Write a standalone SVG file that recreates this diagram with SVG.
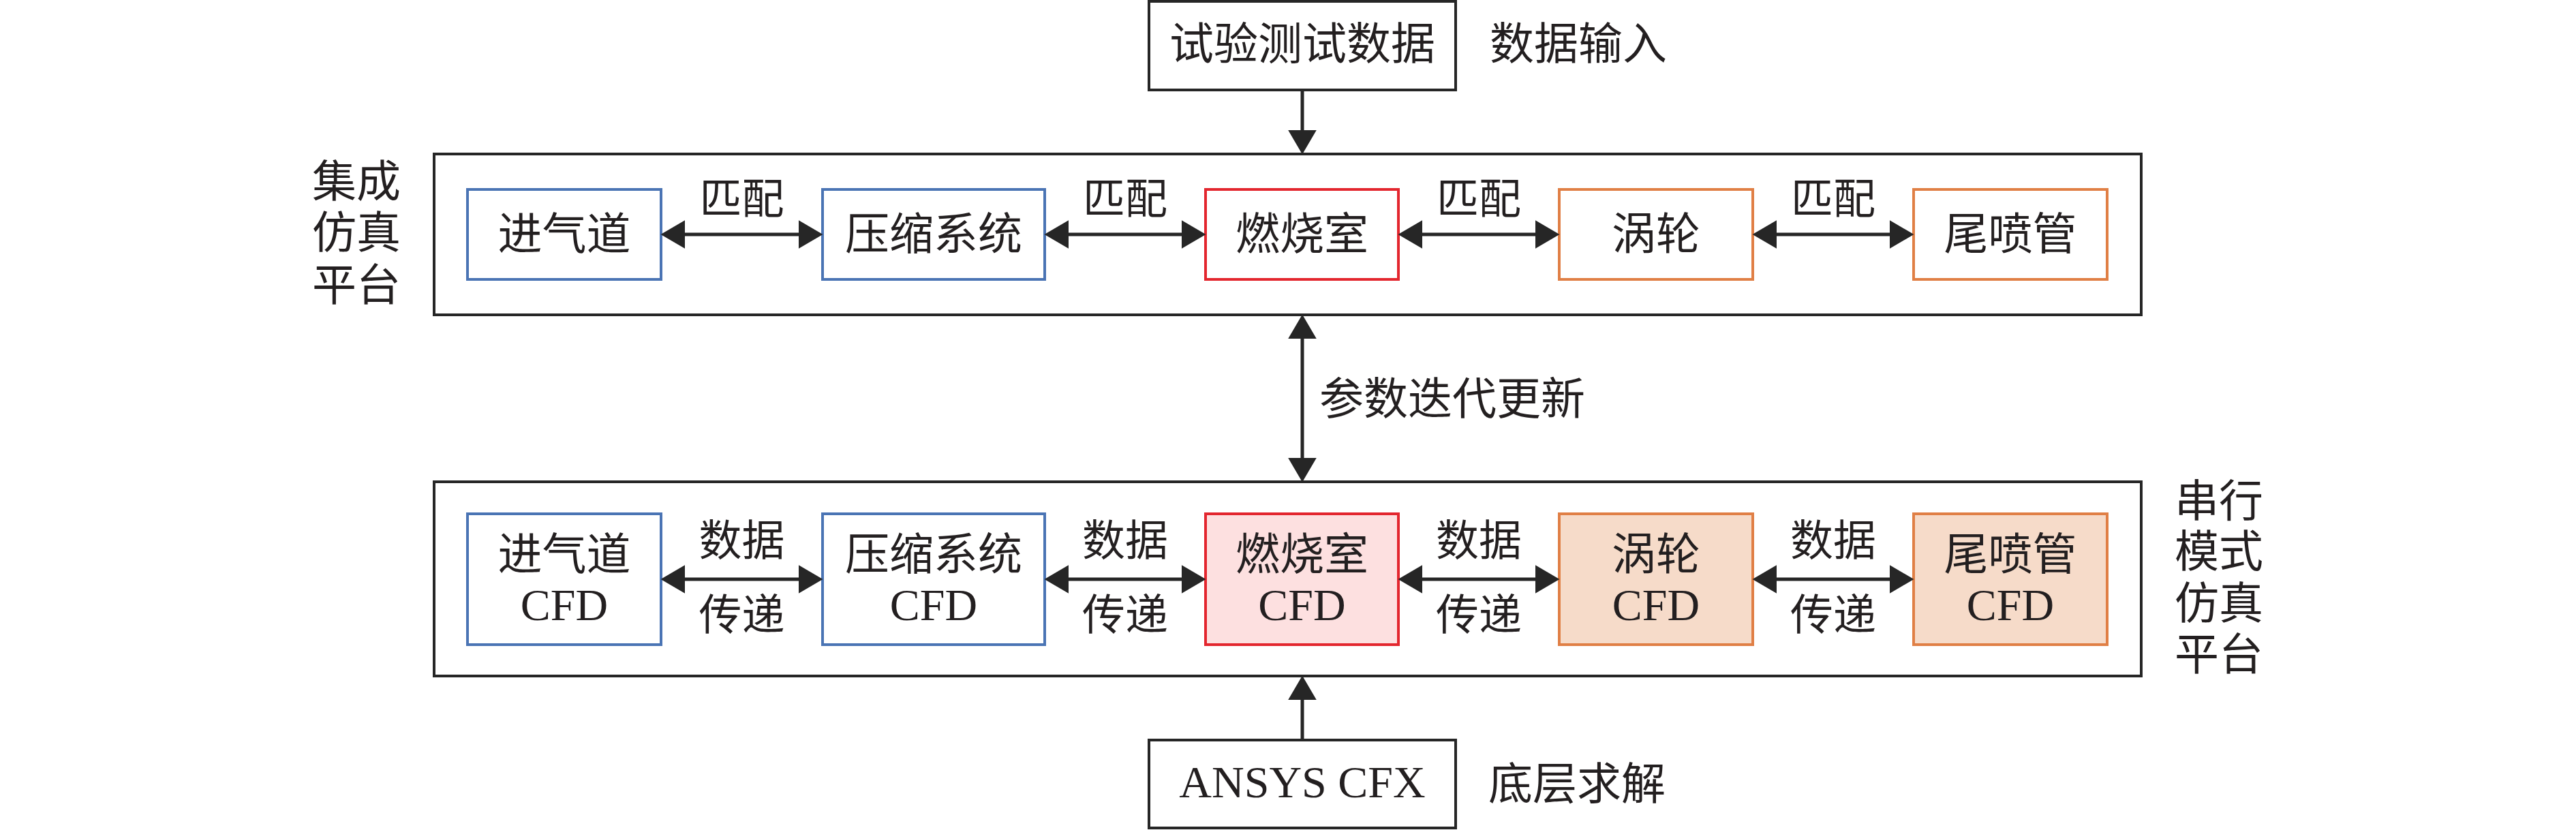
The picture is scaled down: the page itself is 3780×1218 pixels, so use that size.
<svg xmlns="http://www.w3.org/2000/svg" width="3780" height="1218" viewBox="0 0 3780 1218">
<defs>
<style>
.t{font-family:"Liberation Serif","Noto Sans CJK SC",serif;fill:#231f20;}
.c{text-anchor:middle;}
.frame{fill:#fff;stroke:#262626;stroke-width:4;}
.blue{fill:#fff;stroke:#4a74b4;stroke-width:4;}
.red{fill:#fff;stroke:#e3262e;stroke-width:4;}
.org{fill:#fff;stroke:#e07f45;stroke-width:4;}
.redf{fill:#fde0e0;stroke:#e3262e;stroke-width:4;}
.orgf{fill:#f6dbc9;stroke:#e07f45;stroke-width:4;}
.ln{stroke:#262626;stroke-width:5;fill:none;}
</style>
<marker id="ah" markerUnits="userSpaceOnUse" markerWidth="36" markerHeight="42" viewBox="0 0 35 41" refX="15" refY="20.5" orient="auto-start-reverse">
<path d="M0,0 L35,20.5 L0,41 z" fill="#262626"/>
</marker>
</defs>
<rect width="3780" height="1218" fill="#fff"/>

<g id="top-input">
<rect class="frame" x="1686" y="2" width="450" height="130"/>
<text class="t c" x="1911" y="87" font-size="65">试验测试数据</text>
<text class="t c" x="2316" y="87" font-size="65">数据输入</text>
</g>

<g id="integrated-platform">
<rect class="frame" x="637" y="226" width="2505" height="236"/>
<text class="t" x="458" y="289" font-size="65">集成</text>
<text class="t" x="458" y="364" font-size="65">仿真</text>
<text class="t" x="458" y="441" font-size="65">平台</text>
</g>

<g id="inlet"><rect class="blue" x="686" y="278" width="284" height="132"/><text class="t c" x="828" y="366" font-size="65">进气道</text></g>
<g id="compressor"><rect class="blue" x="1207" y="278" width="326" height="132"/><text class="t c" x="1370" y="366" font-size="65">压缩系统</text></g>
<g id="combustor"><rect class="red" x="1769" y="278" width="283" height="132"/><text class="t c" x="1910.5" y="366" font-size="65">燃烧室</text></g>
<g id="turbine"><rect class="org" x="2288" y="278" width="284" height="132"/><text class="t c" x="2430" y="366" font-size="65">涡轮</text></g>
<g id="nozzle"><rect class="org" x="2808" y="278" width="284" height="132"/><text class="t c" x="2950" y="366" font-size="65">尾喷管</text></g>

<g id="serial-platform">
<rect class="frame" x="637" y="707" width="2505" height="285"/>
<text class="t" x="3191" y="758" font-size="65">串行</text>
<text class="t" x="3191" y="832" font-size="65">模式</text>
<text class="t" x="3191" y="908" font-size="65">仿真</text>
<text class="t" x="3191" y="983" font-size="65">平台</text>
</g>

<g id="inlet-cfd"><rect class="blue" x="686" y="754" width="284" height="192"/><text class="t c" x="828" y="836" font-size="65">进气道</text><text class="t c" x="828" y="910" font-size="66">CFD</text></g>
<g id="compressor-cfd"><rect class="blue" x="1207" y="754" width="326" height="192"/><text class="t c" x="1370" y="836" font-size="65">压缩系统</text><text class="t c" x="1370" y="910" font-size="66">CFD</text></g>
<g id="combustor-cfd"><rect class="redf" x="1769" y="754" width="283" height="192"/><text class="t c" x="1910.5" y="836" font-size="65">燃烧室</text><text class="t c" x="1910.5" y="910" font-size="66">CFD</text></g>
<g id="turbine-cfd"><rect class="orgf" x="2288" y="754" width="284" height="192"/><text class="t c" x="2430" y="836" font-size="65">涡轮</text><text class="t c" x="2430" y="910" font-size="66">CFD</text></g>
<g id="nozzle-cfd"><rect class="orgf" x="2808" y="754" width="284" height="192"/><text class="t c" x="2950" y="836" font-size="65">尾喷管</text><text class="t c" x="2950" y="910" font-size="66">CFD</text></g>

<g id="solver">
<rect class="frame" x="1686" y="1086" width="450" height="129"/>
<text class="t c" x="1911" y="1170" font-size="66">ANSYS CFX</text>
<text class="t c" x="2314" y="1173" font-size="65">底层求解</text>
</g>

<g id="connectors">
<line class="ln" x1="1911" y1="132" x2="1911" y2="206" marker-end="url(#ah)"/>
<line class="ln" x1="1911" y1="482" x2="1911" y2="687" marker-start="url(#ah)" marker-end="url(#ah)"/>
<line class="ln" x1="1911" y1="1086" x2="1911" y2="1012" marker-end="url(#ah)"/>
<line class="ln" x1="990" y1="344" x2="1187" y2="344" marker-start="url(#ah)" marker-end="url(#ah)"/>
<line class="ln" x1="1553" y1="344" x2="1749" y2="344" marker-start="url(#ah)" marker-end="url(#ah)"/>
<line class="ln" x1="2072" y1="344" x2="2268" y2="344" marker-start="url(#ah)" marker-end="url(#ah)"/>
<line class="ln" x1="2592" y1="344" x2="2788" y2="344" marker-start="url(#ah)" marker-end="url(#ah)"/>
<line class="ln" x1="990" y1="850" x2="1187" y2="850" marker-start="url(#ah)" marker-end="url(#ah)"/>
<line class="ln" x1="1553" y1="850" x2="1749" y2="850" marker-start="url(#ah)" marker-end="url(#ah)"/>
<line class="ln" x1="2072" y1="850" x2="2268" y2="850" marker-start="url(#ah)" marker-end="url(#ah)"/>
<line class="ln" x1="2592" y1="850" x2="2788" y2="850" marker-start="url(#ah)" marker-end="url(#ah)"/>
<text class="t c" x="1088.5" y="314" font-size="62">匹配</text>
<text class="t c" x="1651" y="314" font-size="62">匹配</text>
<text class="t c" x="2170" y="314" font-size="62">匹配</text>
<text class="t c" x="2690" y="314" font-size="62">匹配</text>
<text class="t c" x="1088.5" y="815" font-size="63">数据</text>
<text class="t c" x="1088.5" y="924" font-size="63">传递</text>
<text class="t c" x="1651" y="815" font-size="63">数据</text>
<text class="t c" x="1651" y="924" font-size="63">传递</text>
<text class="t c" x="2170" y="815" font-size="63">数据</text>
<text class="t c" x="2170" y="924" font-size="63">传递</text>
<text class="t c" x="2690" y="815" font-size="63">数据</text>
<text class="t c" x="2690" y="924" font-size="63">传递</text>
<text class="t" x="1936" y="608" font-size="65">参数迭代更新</text>
</g>
</svg>
